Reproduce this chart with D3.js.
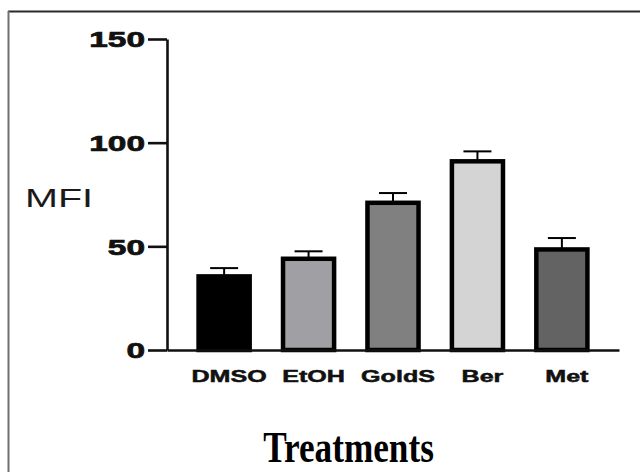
<!DOCTYPE html>
<html>
<head>
<meta charset="utf-8">
<script src="https://cdn.jsdelivr.net/npm/d3@7"></script>
<style>
  html, body { margin: 0; padding: 0; background: #fff; }
  svg { display: block; }
</style>
</head>
<body>
<svg id="chart" width="640" height="472"></svg>
<script>
const categories = ["DMSO", "EtOH", "GoldS", "Ber", "Met"];
const means = [35.5, 44, 71, 91, 48.5];
const errors = [4, 3.6, 4.7, 4.8, 5.5];
const fills = ["#000000", "#a0a0a4", "#808080", "#d4d4d4", "#636363"];
const yTicks = [0, 50, 100, 150];
const yLabel = "MFI";
const xLabel = "Treatments";

const svg = d3.select("#chart");
const stretch = 1.52;

// frame (top and left edges only visible)
svg.append("line").attr("x1", 8).attr("x2", 640).attr("y1", 11.5).attr("y2", 11.5)
  .attr("stroke", "#2a2a2a").attr("stroke-width", 2);
svg.append("line").attr("x1", 8.5).attr("x2", 8.5).attr("y1", 11).attr("y2", 472)
  .attr("stroke", "#707070").attr("stroke-width", 2);

const x = d3.scaleBand().domain(categories).range([167, 619])
  .paddingInner(0.395).paddingOuter(0.374);
const y = d3.scaleLinear().domain([0, 150]).range([350, 39]);

// bars
const g = svg.append("g");
categories.forEach((c, i) => {
  const top = y(means[i] + errors[i]);
  const cx = x(c) + x.bandwidth() / 2;
  g.append("line").attr("x1", cx).attr("x2", cx)
    .attr("y1", y(means[i])).attr("y2", top)
    .attr("stroke", "#000").attr("stroke-width", 2);
  g.append("line").attr("x1", cx - 14).attr("x2", cx + 14)
    .attr("y1", top).attr("y2", top)
    .attr("stroke", "#000").attr("stroke-width", 2);
  g.append("rect")
    .attr("x", x(c)).attr("width", x.bandwidth())
    .attr("y", y(means[i])).attr("height", y(0) - y(means[i]))
    .attr("fill", fills[i]).attr("stroke", "#000").attr("stroke-width", 4.5);
});

// y axis
const yAxis = svg.append("g").attr("transform", "translate(167,0)")
  .call(d3.axisLeft(y).tickValues(yTicks).tickSize(19).tickSizeOuter(0).tickPadding(0));
yAxis.select(".domain").attr("stroke", "#111").attr("stroke-width", 2.6);
yAxis.selectAll(".tick line").attr("stroke", "#111").attr("stroke-width", 2.6);
yAxis.selectAll(".tick text")
  .attr("x", 0).attr("dy", "0.36em")
  .attr("transform", `translate(-22,0) scale(${stretch},1)`)
  .attr("text-anchor", "end")
  .style("font-family", "'Liberation Sans', Arial, sans-serif")
  .style("font-weight", "bold").style("font-size", "22px")
  .attr("fill", "#111").attr("stroke", "#111").attr("stroke-width", 0.7);

// x axis
const xAxis = svg.append("g").attr("transform", "translate(0,350)")
  .call(d3.axisBottom(x).tickSize(0).tickSizeOuter(0).tickPadding(0));
xAxis.select(".domain").attr("stroke", "#111").attr("stroke-width", 2.6);
xAxis.selectAll(".tick text")
  .attr("x", 0).attr("y", 32).attr("dy", 0)
  .attr("transform", `translate(5,0) scale(${stretch},1)`)
  .attr("text-anchor", "middle")
  .style("font-family", "'Liberation Sans', Arial, sans-serif")
  .style("font-weight", "bold").style("font-size", "16.5px")
  .attr("fill", "#111").attr("stroke", "#111").attr("stroke-width", 0.5);

// y label
svg.append("text")
  .attr("transform", `translate(25,207) scale(${stretch},1)`)
  .attr("text-anchor", "start")
  .style("font-family", "'Liberation Sans', Arial, sans-serif")
  .style("font-size", "26px").attr("fill", "#1a1a1a")
  .text(yLabel);

// x label
svg.append("text")
  .attr("transform", "translate(348.5,462) scale(0.8,1)")
  .attr("text-anchor", "middle")
  .style("font-family", "'Liberation Serif', 'Times New Roman', serif")
  .style("font-weight", "bold").style("font-size", "44px").attr("fill", "#000")
  .text(xLabel);
</script>
</body>
</html>
